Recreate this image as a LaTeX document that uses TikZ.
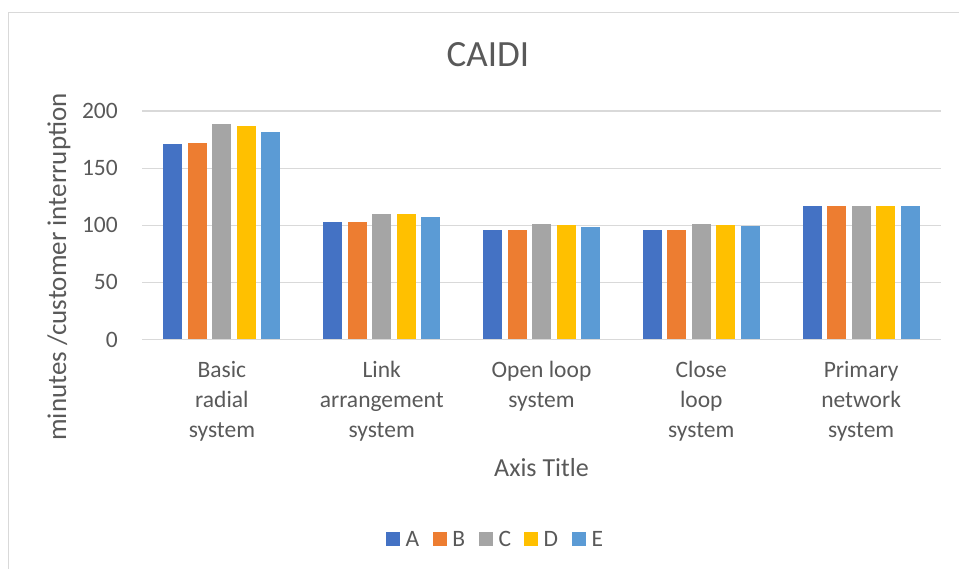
\documentclass[tikz,border=0pt]{standalone}
\usepackage{fontspec}
\setmainfont{Carlito}

\definecolor{barA}{HTML}{4472C4}
\definecolor{barB}{HTML}{ED7D31}
\definecolor{barC}{HTML}{A5A5A5}
\definecolor{barD}{HTML}{FFC000}
\definecolor{barE}{HTML}{5B9BD5}
\definecolor{gridgray}{HTML}{D9D9D9}
\definecolor{textgray}{HTML}{595959}

\begin{document}
\begin{tikzpicture}[x=1pt,y=1pt,yscale=-1,
	lbl/.style={text=textgray,inner sep=0pt,font=\fontsize{23.5}{30}\selectfont},
	axtitle/.style={text=textgray,inner sep=0pt,font=\fontsize{26}{30}\selectfont}]
		\useasboundingbox (0,0) rectangle (959,569);

		% Draw the chart frame (only top and left edges are visible)
		\draw[gridgray, line width=1.2] (8.5,569) -- (8.5,12.5) -- (959,12.5);

		% Title
		\node[text=textgray, inner sep=0pt, font=\fontsize{37}{44}\selectfont] (title) at (488,55) {CAIDI};

		% Draw the horizontal gridlines and the tick labels
		\foreach \v in {50,100,...,200} {
			\draw[gridgray, line width=1.2] (142,{339.5-1.1425*\v}) -- (941,{339.5-1.1425*\v});
		}
		\foreach \v in {0,50,...,200} {
			\node[lbl, anchor=east] (tick\v) at (118,{339.5-1.1425*\v}) {\v};
		}

		% Draw the bars (group index / values of A, B, C, D, E)
		\foreach \g/\a/\b/\c/\d/\e in {0/171/172/188.6/187/182, 1/102.6/103.1/110.1/109.6/107.5,
			2/95.8/95.8/100.8/100.5/98.7, 3/95.8/96.1/101.1/100.5/99.1, 4/116.8/116.8/116.8/116.8/116.8} {
			\foreach \k/\h/\col in {0/\a/barA, 1/\b/barB, 2/\c/barC, 3/\d/barD, 4/\e/barE} {
				\fill[\col] ({221.9+159.8*\g+24.5*(\k-2)-9.5},339.5) rectangle +(19,{-1.1425*\h});
			}
		}

		% The baseline over the bars
		\draw[gridgray, line width=1.2] (142,339.5) -- (941,339.5);

		% The category labels
		\node[lbl, anchor=north, align=center] (cat1) at (221.9,361) {Basic\\radial\\system};
		\node[lbl, anchor=north, align=center] (cat2) at (381.7,361) {Link\\arrangement\\system};
		\node[lbl, anchor=north, align=center] (cat3) at (541.5,361) {Open loop\\system};
		\node[lbl, anchor=north, align=center] (cat4) at (701.3,361) {Close\\loop\\system};
		\node[lbl, anchor=north, align=center] (cat5) at (861.1,361) {Primary\\network\\system};

		% Axis titles
		\node[axtitle] (xtitle) at (541.5,468) {Axis Title};
		\node[axtitle, rotate=90, font=\fontsize{27}{30}\selectfont] (ytitle) at (59,267) {minutes /customer interruption};

		% The legend
		\foreach \nm/\col/\xx in {A/barA/386, B/barB/432.7, C/barC/479, D/barD/524, E/barE/572} {
			\fill[\col] (\xx,532) rectangle +(14,14);
			\node[lbl, anchor=west] (leg\nm) at (\xx+19.5,539) {\nm};
		}
	\end{tikzpicture}
\end{document}
